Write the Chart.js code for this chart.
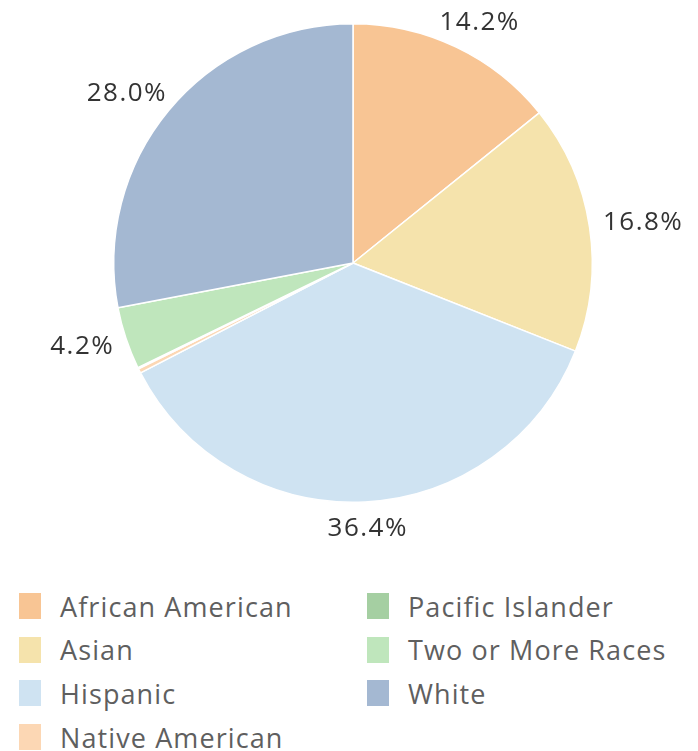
<!DOCTYPE html>
<html>
<head>
<meta charset="utf-8">
<script src="https://cdn.jsdelivr.net/npm/chart.js@4.4.0/dist/chart.umd.min.js"></script>
<style>
  html, body { margin: 0; padding: 0; background: #ffffff; }
  #wrap { position: relative; width: 698px; height: 751px; overflow: hidden; }
  #c { position: absolute; left: 0; top: 0; }
  #legend { position: absolute; left: 0; top: 584px; width: 698px; font-family: "Open Sans", sans-serif; }
  .item { position: absolute; height: 44px; display: flex; align-items: center; }
  .sw { width: 22px; height: 26px; margin-right: 19px; }
  .lb { font-size: 27px; color: #5f5f5f; white-space: nowrap; letter-spacing: 1.1px; }
</style>
</head>
<body>
<div id="wrap">
  <canvas id="c" width="698" height="570"></canvas>
  <div id="legend"></div>
</div>
<script>
const categories = ["African American", "Asian", "Hispanic", "Native American", "Pacific Islander", "Two or More Races", "White"];
const shares = [14.2, 16.8, 36.4, 0.3, 0.1, 4.2, 28.0];
const colors = ["#F8C594", "#F5E3AC", "#CFE3F2", "#FCD7B4", "#A5CFA2", "#BFE6BC", "#A4B8D2"];

const labelPlugin = {
  id: 'outerLabels',
  afterDatasetsDraw(chart) {
    const ctx = chart.ctx;
    const meta = chart.getDatasetMeta(0);
    ctx.save();
    ctx.font = '26px "Open Sans", sans-serif';
    if ('letterSpacing' in ctx) ctx.letterSpacing = '1.5px';
    ctx.fillStyle = '#333333';
    ctx.textAlign = 'center';
    ctx.textBaseline = 'middle';
    meta.data.forEach((arc, i) => {
      const v = shares[i];
      if (v < 1) return;
      const p = arc.getProps(['x', 'y', 'startAngle', 'endAngle', 'outerRadius'], true);
      const mid = (p.startAngle + p.endAngle) / 2;
      const r = p.outerRadius + 14;
      const text = v.toFixed(1) + '%';
      const w = ctx.measureText(text).width;
      const h = 26;
      const cx = p.x + Math.cos(mid) * r + Math.cos(mid) * w / 2;
      const cy = p.y + Math.sin(mid) * r + Math.sin(mid) * h / 2;
      ctx.fillText(text, cx, cy);
    });
    ctx.restore();
  }
};

new Chart(document.getElementById('c'), {
  type: 'pie',
  data: {
    labels: categories,
    datasets: [{
      data: shares,
      backgroundColor: colors,
      borderColor: '#ffffff',
      borderWidth: 1.5
    }]
  },
  options: {
    responsive: false,
    animation: false,
    layout: { padding: { left: 113, right: 105, top: 23, bottom: 67 } },
    plugins: {
      legend: { display: false },
      tooltip: { enabled: false }
    }
  },
  plugins: [labelPlugin]
});

// legend (two columns, built from the arrays)
const legend = document.getElementById('legend');
const rowsPerCol = 4;
categories.forEach((name, i) => {
  const col = Math.floor(i / rowsPerCol);
  const row = i % rowsPerCol;
  const d = document.createElement('div');
  d.className = 'item';
  d.style.left = (col === 0 ? 19 : 367) + 'px';
  d.style.top = (row * 43.7) + 'px';
  const sw = document.createElement('div');
  sw.className = 'sw';
  sw.style.background = colors[i];
  const lb = document.createElement('div');
  lb.className = 'lb';
  lb.textContent = name;
  d.appendChild(sw);
  d.appendChild(lb);
  legend.appendChild(d);
});
</script>
</body>
</html>
